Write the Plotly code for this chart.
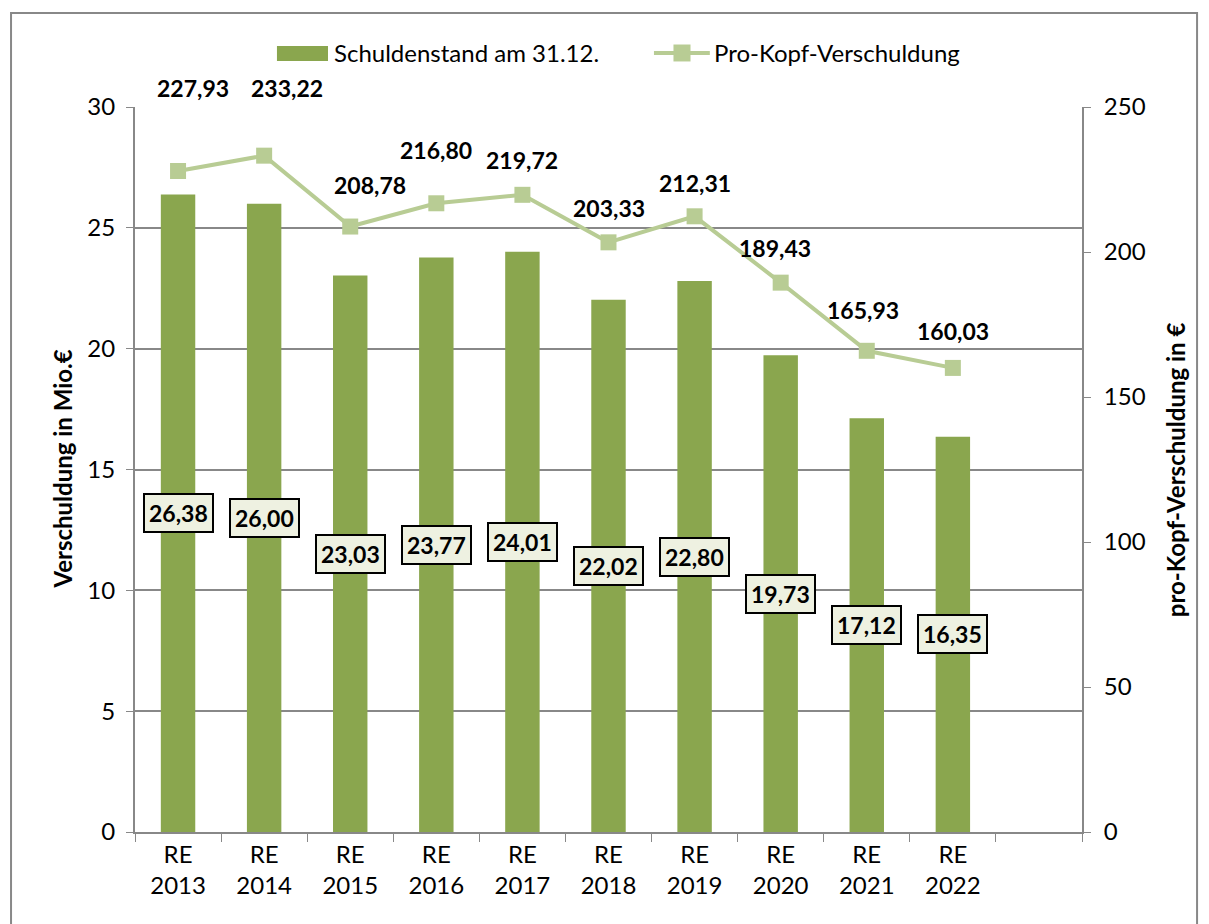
import plotly.graph_objects as go

categories = ["RE<br>2013", "RE<br>2014", "RE<br>2015", "RE<br>2016", "RE<br>2017",
              "RE<br>2018", "RE<br>2019", "RE<br>2020", "RE<br>2021", "RE<br>2022"]
axis_categories = categories + [" "]
debt_mio = [26.38, 26.00, 23.03, 23.77, 24.01, 22.02, 22.80, 19.73, 17.12, 16.35]
per_capita = [227.93, 233.22, 208.78, 216.80, 219.72, 203.33, 212.31, 189.43, 165.93, 160.03]
bar_name = "Schuldenstand am 31.12."
line_name = "Pro-Kopf-Verschuldung"

label_yshift = [83, 68, 42, 53, 35, 34, 33, 35, 41, 37]
label_xshift = [15, 23, 20, 0, 0, 0, 0, -6, -4, 0]

FONT = "Lato"
bar_color = "#8AA64E"
line_color = "#B8CC94"
axis_gray = "#888888"

def fmt(v):
    return f"{v:.2f}".replace(".", ",")

fig = go.Figure()
fig.add_trace(go.Bar(x=categories, y=debt_mio, name=bar_name, showlegend=False,
                     marker=dict(color=bar_color, line=dict(width=0)), yaxis="y"))
fig.add_trace(go.Scatter(x=categories, y=per_capita, name=line_name, showlegend=False,
                         mode="lines+markers", yaxis="y2",
                         line=dict(color=line_color, width=4),
                         marker=dict(symbol="square", size=16, color=line_color)))

annotations = []
for c, v in zip(categories, debt_mio):
    annotations.append(dict(x=c, y=v / 2, xref="x", yref="y", text=f"<b>{fmt(v)}</b>",
                            showarrow=False, font=dict(family=FONT, size=23, color="black"),
                            bgcolor="#EEF1E1", bordercolor="black", borderwidth=2,
                            borderpad=4))
for c, v, dy, dx in zip(categories, per_capita, label_yshift, label_xshift):
    annotations.append(dict(x=c, y=v, xref="x", yref="y2", text=f"<b>{fmt(v)}</b>",
                            showarrow=False, yshift=dy, xshift=dx,
                            font=dict(family=FONT, size=23, color="black")))
annotations.append(dict(x=-0.077, y=0.5, xref="paper", yref="paper", textangle=-90,
                        xanchor="center", yanchor="middle",
                        text="<b>Verschuldung in Mio.€</b>", showarrow=False,
                        font=dict(family=FONT, size=24, color="black")))
annotations.append(dict(x=1.099, y=0.5, xref="paper", yref="paper", textangle=-90,
                        xanchor="center", yanchor="middle",
                        text="<b>pro-Kopf-Verschuldung in €</b>", showarrow=False,
                        font=dict(family=FONT, size=24, color="black")))
# legend (drawn manually)
annotations.append(dict(x=0.208, y=1.0745, xref="paper", yref="paper", xanchor="left",
                        yanchor="middle", text=bar_name, showarrow=False,
                        font=dict(family=FONT, size=24, color="black")))
annotations.append(dict(x=0.6093, y=1.0745, xref="paper", yref="paper", xanchor="left",
                        yanchor="middle", text=line_name, showarrow=False,
                        font=dict(family=FONT, size=24, color="black")))

shapes = [
    dict(type="rect", xref="paper", yref="paper", x0=-0.1309, x1=1.1215,
         y0=-0.14, y1=1.1297, line=dict(color=axis_gray, width=2),
         fillcolor="rgba(0,0,0,0)", layer="below"),
    dict(type="rect", xref="paper", yref="paper", x0=0.1499, x1=0.2038,
         y0=1.0634, y1=1.0841, line=dict(width=0), fillcolor=bar_color),
    dict(type="line", xref="paper", yref="paper", x0=0.548, x1=0.607,
         y0=1.0745, y1=1.0745, line=dict(color=line_color, width=4)),
    dict(type="rect", xref="paper", yref="paper", x0=0.5686, x1=0.5866,
         y0=1.0628, y1=1.0862, line=dict(width=0), fillcolor=line_color),
]

fig.update_layout(
    width=1209, height=924,
    margin=dict(l=127, r=135, t=99, b=100),
    paper_bgcolor="white", plot_bgcolor="white",
    font=dict(family=FONT, size=24, color="black"),
    bargap=0.6,
    showlegend=False,
    xaxis=dict(type="category", categoryorder="array", categoryarray=axis_categories,
               range=[-0.5, 10.5], tickson="boundaries", ticks="outside", ticklen=8,
               tickcolor=axis_gray, showline=True, linecolor=axis_gray, linewidth=2,
               showgrid=False, tickfont=dict(size=24)),
    yaxis=dict(range=[0, 30], dtick=5, ticks="outside", ticklen=7, tickcolor=axis_gray,
               showline=True, linecolor=axis_gray, linewidth=2, showgrid=True,
               gridcolor=axis_gray, gridwidth=2, zeroline=False, tickfont=dict(size=24),
               ticklabelstandoff=6),
    yaxis2=dict(range=[0, 250], dtick=50, overlaying="y", side="right", ticks="outside",
                ticklen=7, tickcolor=axis_gray, showline=True, linecolor=axis_gray,
                linewidth=2, showgrid=False, zeroline=False, tickfont=dict(size=24),
                ticklabelstandoff=8),
    annotations=annotations,
    shapes=shapes,
)

fig.write_html("out.html")
